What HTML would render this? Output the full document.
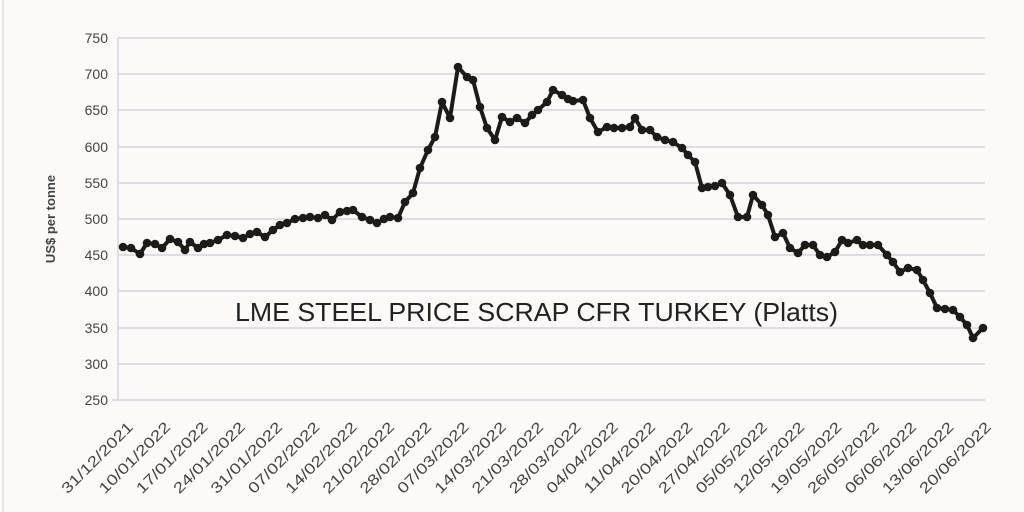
<!DOCTYPE html>
<html><head><meta charset="utf-8"><style>
html,body{margin:0;padding:0;background:#fbfaf8;}
svg{display:block;font-family:"Liberation Sans",sans-serif;}
</style></head><body>
<svg width="1024" height="512" viewBox="0 0 1024 512">
<rect width="1024" height="512" fill="#fbfaf8"/>
<line x1="3" y1="0" x2="3" y2="512" stroke="#dcdcdc" stroke-width="1.5"/>
<g stroke="#d4d4dc" stroke-width="1.5">
<line x1="118" x2="985" y1="38" y2="38"/><line x1="118" x2="985" y1="74" y2="74"/>
<line x1="118" x2="985" y1="110" y2="110"/><line x1="118" x2="985" y1="147" y2="147"/>
<line x1="118" x2="985" y1="183" y2="183"/><line x1="118" x2="985" y1="219" y2="219"/>
<line x1="118" x2="985" y1="255" y2="255"/><line x1="118" x2="985" y1="291" y2="291"/>
<line x1="118" x2="985" y1="328" y2="328"/><line x1="118" x2="985" y1="364" y2="364"/>
<line x1="112" x2="985" y1="400" y2="400"/>
<line x1="118" x2="118" y1="38" y2="400"/>
</g>
<g font-size="14" fill="#444" text-anchor="end">
<text x="108" y="43">750</text><text x="108" y="79">700</text><text x="108" y="115">650</text>
<text x="108" y="152">600</text><text x="108" y="188">550</text><text x="108" y="224">500</text>
<text x="108" y="260">450</text><text x="108" y="296">400</text><text x="108" y="333">350</text>
<text x="108" y="369">300</text><text x="108" y="405">250</text>
</g>
<text transform="translate(55,219) rotate(-90)" font-size="13" font-weight="bold" fill="#444" text-anchor="middle">US$ per tonne</text>
<text x="235" y="321" font-size="26" fill="#222" textLength="603" lengthAdjust="spacingAndGlyphs">LME STEEL PRICE SCRAP CFR TURKEY (Platts)</text>
<g font-size="15" fill="#444" text-anchor="end">
<text transform="translate(134,428) rotate(-45)" textLength="94" lengthAdjust="spacingAndGlyphs">31/12/2021</text>
<text transform="translate(171.3,428) rotate(-45)" textLength="94" lengthAdjust="spacingAndGlyphs">10/01/2022</text>
<text transform="translate(208.6,428) rotate(-45)" textLength="94" lengthAdjust="spacingAndGlyphs">17/01/2022</text>
<text transform="translate(245.9,428) rotate(-45)" textLength="94" lengthAdjust="spacingAndGlyphs">24/01/2022</text>
<text transform="translate(283.2,428) rotate(-45)" textLength="94" lengthAdjust="spacingAndGlyphs">31/01/2022</text>
<text transform="translate(320.5,428) rotate(-45)" textLength="94" lengthAdjust="spacingAndGlyphs">07/02/2022</text>
<text transform="translate(357.8,428) rotate(-45)" textLength="94" lengthAdjust="spacingAndGlyphs">14/02/2022</text>
<text transform="translate(395.1,428) rotate(-45)" textLength="94" lengthAdjust="spacingAndGlyphs">21/02/2022</text>
<text transform="translate(432.4,428) rotate(-45)" textLength="94" lengthAdjust="spacingAndGlyphs">28/02/2022</text>
<text transform="translate(469.7,428) rotate(-45)" textLength="94" lengthAdjust="spacingAndGlyphs">07/03/2022</text>
<text transform="translate(507,428) rotate(-45)" textLength="94" lengthAdjust="spacingAndGlyphs">14/03/2022</text>
<text transform="translate(544.3,428) rotate(-45)" textLength="94" lengthAdjust="spacingAndGlyphs">21/03/2022</text>
<text transform="translate(581.6,428) rotate(-45)" textLength="94" lengthAdjust="spacingAndGlyphs">28/03/2022</text>
<text transform="translate(618.9,428) rotate(-45)" textLength="94" lengthAdjust="spacingAndGlyphs">04/04/2022</text>
<text transform="translate(656.2,428) rotate(-45)" textLength="94" lengthAdjust="spacingAndGlyphs">11/04/2022</text>
<text transform="translate(693.5,428) rotate(-45)" textLength="94" lengthAdjust="spacingAndGlyphs">20/04/2022</text>
<text transform="translate(730.8,428) rotate(-45)" textLength="94" lengthAdjust="spacingAndGlyphs">27/04/2022</text>
<text transform="translate(768.1,428) rotate(-45)" textLength="94" lengthAdjust="spacingAndGlyphs">05/05/2022</text>
<text transform="translate(805.4,428) rotate(-45)" textLength="94" lengthAdjust="spacingAndGlyphs">12/05/2022</text>
<text transform="translate(842.7,428) rotate(-45)" textLength="94" lengthAdjust="spacingAndGlyphs">19/05/2022</text>
<text transform="translate(880,428) rotate(-45)" textLength="94" lengthAdjust="spacingAndGlyphs">26/05/2022</text>
<text transform="translate(917.3,428) rotate(-45)" textLength="94" lengthAdjust="spacingAndGlyphs">06/06/2022</text>
<text transform="translate(954.6,428) rotate(-45)" textLength="94" lengthAdjust="spacingAndGlyphs">13/06/2022</text>
<text transform="translate(991.9,428) rotate(-45)" textLength="94" lengthAdjust="spacingAndGlyphs">20/06/2022</text>
</g>
<polyline fill="none" stroke="#1e1a18" stroke-width="4" stroke-linejoin="round" points="123,247 131,248 140,254 147,243 155,244 162,248 170,239 178,242 185,250 190,242 198,248 204,244 210,243 218,240 227,235 235,236 243,238 250,234 257,232 265,237 273,230 280,225 287,223 295,219 303,218 310,217 318,218 325,215 332,220 340,212 347,211 353,210 362,217 370,220 377,223 384,219 390,217 398,218 405,202 413,193 420,168 428,150 435,137 442,102 450,118 458,67 467,77 473,80 480,107 487,128 495,140 502,117 510,122 517,118 525,123 532,115 538,110 547,102 553,90 562,95 568,99 573,101 583,100 590,118 598,132 607,127 614,128 622,128 630,127 635,118 642,130 650,130 657,137 665,140 673,142 682,148 688,155 695,162 702,188 708,187 715,186 722,183 730,195 738,217 747,217 753,195 762,205 768,215 775,237 783,233 790,248 798,253 805,245 813,245 820,255 827,257 835,252 842,240 848,243 857,240 863,245 870,245 878,245 887,255 893,262 900,272 908,268 917,270 923,280 930,293 937,308 945,309 953,310 960,317 967,325 973,338 983,328"/>
<g fill="#1e1a18">
<circle cx="123" cy="247" r="4.3"/><circle cx="131" cy="248" r="4.3"/><circle cx="140" cy="254" r="4.3"/><circle cx="147" cy="243" r="4.3"/><circle cx="155" cy="244" r="4.3"/><circle cx="162" cy="248" r="4.3"/><circle cx="170" cy="239" r="4.3"/><circle cx="178" cy="242" r="4.3"/><circle cx="185" cy="250" r="4.3"/><circle cx="190" cy="242" r="4.3"/><circle cx="198" cy="248" r="4.3"/><circle cx="204" cy="244" r="4.3"/><circle cx="210" cy="243" r="4.3"/><circle cx="218" cy="240" r="4.3"/><circle cx="227" cy="235" r="4.3"/><circle cx="235" cy="236" r="4.3"/><circle cx="243" cy="238" r="4.3"/><circle cx="250" cy="234" r="4.3"/><circle cx="257" cy="232" r="4.3"/><circle cx="265" cy="237" r="4.3"/><circle cx="273" cy="230" r="4.3"/><circle cx="280" cy="225" r="4.3"/><circle cx="287" cy="223" r="4.3"/><circle cx="295" cy="219" r="4.3"/><circle cx="303" cy="218" r="4.3"/><circle cx="310" cy="217" r="4.3"/><circle cx="318" cy="218" r="4.3"/><circle cx="325" cy="215" r="4.3"/><circle cx="332" cy="220" r="4.3"/><circle cx="340" cy="212" r="4.3"/><circle cx="347" cy="211" r="4.3"/><circle cx="353" cy="210" r="4.3"/><circle cx="362" cy="217" r="4.3"/><circle cx="370" cy="220" r="4.3"/><circle cx="377" cy="223" r="4.3"/><circle cx="384" cy="219" r="4.3"/><circle cx="390" cy="217" r="4.3"/><circle cx="398" cy="218" r="4.3"/><circle cx="405" cy="202" r="4.3"/><circle cx="413" cy="193" r="4.3"/><circle cx="420" cy="168" r="4.3"/><circle cx="428" cy="150" r="4.3"/><circle cx="435" cy="137" r="4.3"/><circle cx="442" cy="102" r="4.3"/><circle cx="450" cy="118" r="4.3"/><circle cx="458" cy="67" r="4.3"/><circle cx="467" cy="77" r="4.3"/><circle cx="473" cy="80" r="4.3"/><circle cx="480" cy="107" r="4.3"/><circle cx="487" cy="128" r="4.3"/><circle cx="495" cy="140" r="4.3"/><circle cx="502" cy="117" r="4.3"/><circle cx="510" cy="122" r="4.3"/><circle cx="517" cy="118" r="4.3"/><circle cx="525" cy="123" r="4.3"/><circle cx="532" cy="115" r="4.3"/><circle cx="538" cy="110" r="4.3"/><circle cx="547" cy="102" r="4.3"/><circle cx="553" cy="90" r="4.3"/><circle cx="562" cy="95" r="4.3"/><circle cx="568" cy="99" r="4.3"/><circle cx="573" cy="101" r="4.3"/><circle cx="583" cy="100" r="4.3"/><circle cx="590" cy="118" r="4.3"/><circle cx="598" cy="132" r="4.3"/><circle cx="607" cy="127" r="4.3"/><circle cx="614" cy="128" r="4.3"/><circle cx="622" cy="128" r="4.3"/><circle cx="630" cy="127" r="4.3"/><circle cx="635" cy="118" r="4.3"/><circle cx="642" cy="130" r="4.3"/><circle cx="650" cy="130" r="4.3"/><circle cx="657" cy="137" r="4.3"/><circle cx="665" cy="140" r="4.3"/><circle cx="673" cy="142" r="4.3"/><circle cx="682" cy="148" r="4.3"/><circle cx="688" cy="155" r="4.3"/><circle cx="695" cy="162" r="4.3"/><circle cx="702" cy="188" r="4.3"/><circle cx="708" cy="187" r="4.3"/><circle cx="715" cy="186" r="4.3"/><circle cx="722" cy="183" r="4.3"/><circle cx="730" cy="195" r="4.3"/><circle cx="738" cy="217" r="4.3"/><circle cx="747" cy="217" r="4.3"/><circle cx="753" cy="195" r="4.3"/><circle cx="762" cy="205" r="4.3"/><circle cx="768" cy="215" r="4.3"/><circle cx="775" cy="237" r="4.3"/><circle cx="783" cy="233" r="4.3"/><circle cx="790" cy="248" r="4.3"/><circle cx="798" cy="253" r="4.3"/><circle cx="805" cy="245" r="4.3"/><circle cx="813" cy="245" r="4.3"/><circle cx="820" cy="255" r="4.3"/><circle cx="827" cy="257" r="4.3"/><circle cx="835" cy="252" r="4.3"/><circle cx="842" cy="240" r="4.3"/><circle cx="848" cy="243" r="4.3"/><circle cx="857" cy="240" r="4.3"/><circle cx="863" cy="245" r="4.3"/><circle cx="870" cy="245" r="4.3"/><circle cx="878" cy="245" r="4.3"/><circle cx="887" cy="255" r="4.3"/><circle cx="893" cy="262" r="4.3"/><circle cx="900" cy="272" r="4.3"/><circle cx="908" cy="268" r="4.3"/><circle cx="917" cy="270" r="4.3"/><circle cx="923" cy="280" r="4.3"/><circle cx="930" cy="293" r="4.3"/><circle cx="937" cy="308" r="4.3"/><circle cx="945" cy="309" r="4.3"/><circle cx="953" cy="310" r="4.3"/><circle cx="960" cy="317" r="4.3"/><circle cx="967" cy="325" r="4.3"/><circle cx="973" cy="338" r="4.3"/><circle cx="983" cy="328" r="4.3"/>
</g>
</svg>
</body></html>
